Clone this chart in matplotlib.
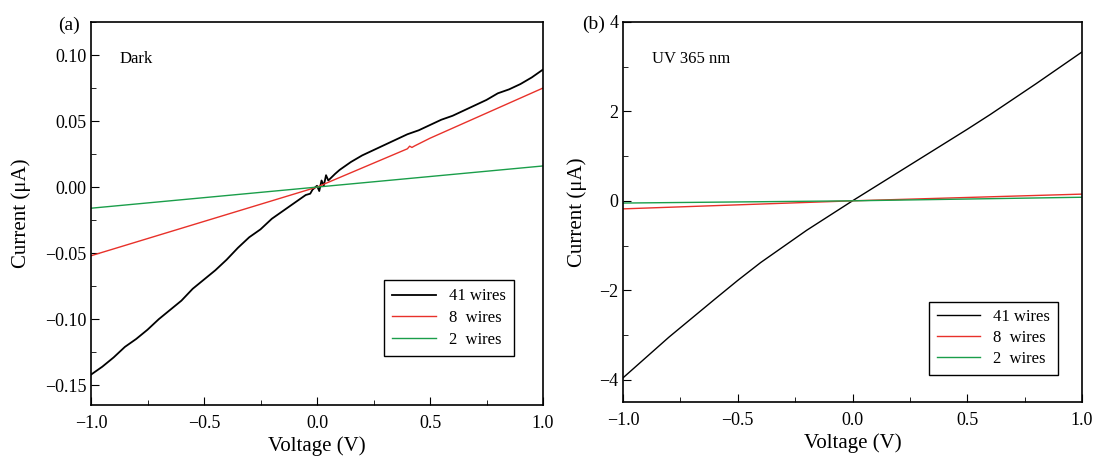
import numpy as np
import matplotlib.pyplot as plt

plt.rcParams['font.family'] = ['Liberation Serif', 'DejaVu Serif']
plt.rcParams['mathtext.fontset'] = 'stix'

# panel (a) dark, current in uA
va_black = [-1.0, -0.95, -0.9, -0.85, -0.8, -0.75, -0.7, -0.65, -0.6, -0.55, -0.5, -0.45,
            -0.4, -0.35, -0.3, -0.25, -0.2, -0.15, -0.1, -0.05, -0.03,
            -0.02, 0.0, 0.01, 0.02, 0.03, 0.04, 0.05, 0.08, 0.1, 0.15, 0.2, 0.25, 0.3,
            0.35, 0.4, 0.45, 0.5, 0.55, 0.6, 0.65, 0.7, 0.75, 0.8, 0.85, 0.9, 0.95, 1.0]
ia_black = [-0.142, -0.136, -0.129, -0.121, -0.115, -0.108, -0.100, -0.093, -0.086, -0.077, -0.070, -0.063,
            -0.055, -0.046, -0.038, -0.032, -0.024, -0.018, -0.012, -0.006, -0.005,
            -0.002, 0.001, -0.003, 0.005, 0.001, 0.009, 0.005, 0.010, 0.013, 0.019, 0.024, 0.028, 0.032,
            0.036, 0.040, 0.043, 0.047, 0.051, 0.054, 0.058, 0.062, 0.066, 0.071, 0.074, 0.078, 0.083, 0.089]
va_red = [-1.0, -0.5, 0.0, 0.4, 0.41, 0.42, 0.43, 0.5, 1.0]
ia_red = [-0.052, -0.026, 0.0, 0.029, 0.031, 0.030, 0.031, 0.037, 0.075]
va_green = [-1.0, -0.5, 0.0, 0.5, 1.0]
ia_green = [-0.016, -0.008, 0.0, 0.008, 0.016]

# panel (b) UV 365 nm
vb_black = [-1.0, -0.8, -0.6, -0.5, -0.4, -0.2, 0.0, 0.2, 0.4, 0.5, 0.6, 0.8, 1.0]
ib_black = [-3.96, -3.05, -2.20, -1.78, -1.38, -0.66, 0.0, 0.64, 1.28, 1.60, 1.93, 2.62, 3.33]
vb_red = [-1.0, 0.0, 1.0]
ib_red = [-0.18, 0.0, 0.15]
vb_green = [-1.0, 0.0, 1.0]
ib_green = [-0.05, 0.0, 0.08]

labels = ['41 wires', '8  wires', '2  wires']
colors = ['black', '#e8312a', '#1a9e4a']

fig = plt.figure(figsize=(10.94, 4.57), dpi=100)
ax1 = fig.add_axes([91/1094, 1 - 405/457, 452/1094, 383/457])
ax2 = fig.add_axes([623/1094, 1 - 402/457, 459/1094, 380/457])

ax1.plot(va_black, ia_black, color=colors[0], lw=1.3, label=labels[0])
ax1.plot(va_red, ia_red, color=colors[1], lw=1.0, label=labels[1])
ax1.plot(va_green, ia_green, color=colors[2], lw=1.0, label=labels[2])
ax1.set_xlim(-1, 1)
ax1.set_ylim(-0.165, 0.125)
ax1.set_yticks([-0.15, -0.10, -0.05, 0.00, 0.05, 0.10])
ax1.set_yticklabels(['\u22120.15', '\u22120.10', '\u22120.05', '0.00', '0.05', '0.10'])
ax1.set_ylabel('Current (\u03bcA)', fontsize=15, labelpad=10)
ax1.text(0.064, 0.893, 'Dark', transform=ax1.transAxes, fontsize=12)
ax1.text(-0.024, 0.992, '(a)', transform=ax1.transAxes, fontsize=14, ha='right', va='center')
ax1.legend(loc='lower right', bbox_to_anchor=(0.955, 0.105), fontsize=12, frameon=True,
           fancybox=False, edgecolor='black', framealpha=1, handlelength=2.6,
           borderpad=0.5, labelspacing=0.35)

ax2.plot(vb_black, ib_black, color=colors[0], lw=1.0, label=labels[0])
ax2.plot(vb_red, ib_red, color=colors[1], lw=1.0, label=labels[1])
ax2.plot(vb_green, ib_green, color=colors[2], lw=1.0, label=labels[2])
ax2.set_xlim(-1, 1)
ax2.set_ylim(-4.5, 4)
ax2.set_yticks([-4, -2, 0, 2, 4])
ax2.set_yticklabels(['\u22124', '\u22122', '0', '2', '4'])
ax2.set_ylabel('Current (\u03bcA)', fontsize=15, labelpad=9)
ax2.text(0.063, 0.892, 'UV 365 nm', transform=ax2.transAxes, fontsize=12)
ax2.text(-0.039, 0.995, '(b)', transform=ax2.transAxes, fontsize=14, ha='right', va='center')
ax2.legend(loc='lower right', bbox_to_anchor=(0.965, 0.05), fontsize=12, frameon=True,
           fancybox=False, edgecolor='black', framealpha=1, handlelength=2.6,
           borderpad=0.45, labelspacing=0.3)

for ax in (ax1, ax2):
    ax.set_xticks([-1.0, -0.5, 0.0, 0.5, 1.0])
    ax.set_xticklabels(['\u22121.0', '\u22120.5', '0.0', '0.5', '1.0'])
    ax.set_xlabel('Voltage (V)', fontsize=15, labelpad=3)
    ax.xaxis.set_minor_locator(plt.MultipleLocator(0.25))
    ax.yaxis.set_minor_locator(plt.MultipleLocator((ax.get_yticks()[1] - ax.get_yticks()[0]) / 2))
    ax.tick_params(which='both', direction='in', top=False, right=False, labelsize=13)
    ax.tick_params(axis='x', pad=7)
    ax.tick_params(which='major', length=6)
    ax.tick_params(which='minor', length=3.5)
    for s in ax.spines.values():
        s.set_linewidth(1.2)

fig.savefig('out.png', dpi=100)
